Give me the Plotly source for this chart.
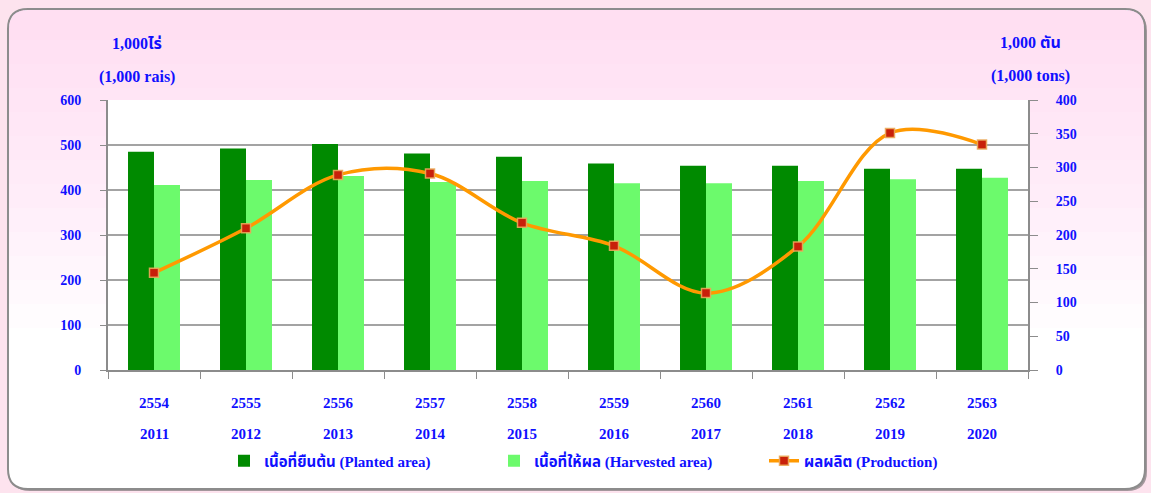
import plotly.graph_objects as go

# ---- data -------------------------------------------------------------
years_be = ["2554", "2555", "2556", "2557", "2558", "2559", "2560", "2561", "2562", "2563"]
years_ad = ["2011", "2012", "2013", "2014", "2015", "2016", "2017", "2018", "2019", "2020"]
planted_area = [485, 492, 502, 481, 474, 459, 454, 454, 447, 447]      # 1,000 rai
harvested_area = [411, 422, 431, 418, 420, 415, 415, 420, 424, 427]    # 1,000 rai
production = [144, 210, 289, 291, 218, 184, 114, 183, 351, 334]        # 1,000 tons

# ---- page geometry (pixels) --------------------------------------------
W, H = 1151, 493
L, R, T, B = 108, 1028, 100, 370   # plot area edges

BLUE = "#1010ff"
SERIF = "Liberation Serif, Times New Roman, Noto Sans Thai, serif"


def px(x):
    return (x - L) / (R - L)


def py(y):
    return (B - y) / (B - T)


def path(points):
    """Build an SVG path in paper units from (cmd, [(x, y), ...]) pixel steps."""
    out = []
    for cmd, pts in points:
        coords = " ".join(f"{px(x):.5f},{py(y):.5f}" for x, y in pts)
        out.append(f"{cmd}{coords}")
    return " ".join(out) + " Z"


def rounded_box(x0, y0, x1, y1, r):
    return path([
        ("M", [(x0 + r, y0)]), ("L", [(x1 - r, y0)]), ("Q", [(x1, y0), (x1, y0 + r)]),
        ("L", [(x1, y1 - r)]), ("Q", [(x1, y1), (x1 - r, y1)]),
        ("L", [(x0 + r, y1)]), ("Q", [(x0, y1), (x0, y1 - r)]),
        ("L", [(x0, y0 + r)]), ("Q", [(x0, y0), (x0 + r, y0)]),
    ])


def rounded_top(x0, y0, x1, y1, r):
    return path([
        ("M", [(x0, y1)]), ("L", [(x0, y0 + r)]), ("Q", [(x0, y0), (x0 + r, y0)]),
        ("L", [(x1 - r, y0)]), ("Q", [(x1, y0), (x1, y0 + r)]), ("L", [(x1, y1)]),
    ])


PX0, PY0, PX1, PY1, RAD = 8, 9, 1145, 489, 20

shapes = [
    # soft shadow of the panel
    dict(type="path", xref="paper", yref="paper", layer="below",
         path=rounded_box(PX0 + 2, PY0 + 2, PX1 + 2, PY1 + 2, RAD),
         fillcolor="rgba(90,90,90,0.55)", line=dict(width=0)),
    # panel
    dict(type="path", xref="paper", yref="paper", layer="below",
         path=rounded_box(PX0, PY0, PX1, PY1, RAD),
         fillcolor="white", line=dict(color="#8c8c8c", width=2)),
]
# pink-to-white vertical shading inside the panel
for y_end in range(40, 330, 24):
    shapes.append(dict(type="path", xref="paper", yref="paper", layer="below",
                       path=rounded_top(PX0 + 1, PY0 + 1, PX1 - 1, y_end, RAD - 1),
                       fillcolor="rgba(250,200,245,0.06)", line=dict(width=0)))
# white plot area
shapes.append(dict(type="rect", xref="paper", yref="paper", layer="below",
                   x0=0, x1=1, y0=0, y1=1, fillcolor="white", line=dict(width=0)))

fig = go.Figure()

fig.add_trace(go.Bar(
    x=years_be, y=planted_area, name="<b>เนื้อที่ยืนต้น (Planted area)</b>",
    marker=dict(color="#008a00", line=dict(width=0)),
))
fig.add_trace(go.Bar(
    x=years_be, y=harvested_area, name="<b>เนื้อที่ให้ผล (Harvested area)</b>",
    marker=dict(color="#6cfa6c", line=dict(width=0)),
))
fig.add_trace(go.Scatter(
    x=years_be, y=production, name="<b>ผลผลิต (Production)</b>", yaxis="y2",
    mode="lines+markers",
    line=dict(color="#ff9900", width=3.5, shape="spline", smoothing=1.0),
    marker=dict(symbol="square", size=9, color="#c8200a",
                line=dict(color="rgba(235,170,90,0.9)", width=1.5)),
))


def title_note(text, x, y):
    return dict(text=f"<b>{text}</b>", x=px(x), y=py(y), xref="paper", yref="paper",
                xanchor="center", yanchor="middle", showarrow=False,
                font=dict(family=SERIF, size=16, color=BLUE))


annotations = [
    title_note("1,000ไร่", 137, 44),
    title_note("(1,000 rais)", 137, 77),
    title_note("1,000 ตัน", 1030, 42),
    title_note("(1,000 tons)", 1030, 76),
]
# Gregorian years under the Buddhist-era tick labels (category index positions)
for i, ad in enumerate(years_ad):
    annotations.append(dict(text=f"<b>{ad}</b>", x=i, xref="x", y=py(434), yref="paper",
                            showarrow=False, xanchor="center", yanchor="middle",
                            font=dict(family=SERIF, size=15, color=BLUE)))

fig.update_layout(
    width=W, height=H, autosize=False,
    margin=dict(l=L, r=W - R, t=T, b=H - B, pad=0),
    paper_bgcolor="#fde3ee", plot_bgcolor="white",
    barmode="group", bargap=0.435, bargroupgap=0,
    shapes=shapes, annotations=annotations,
    font=dict(family=SERIF, color=BLUE),
    xaxis=dict(
        type="category", range=[-0.5, len(years_be) - 0.5],
        tickson="boundaries", ticks="outside", ticklen=7,
        tickcolor="#8c8c8c", showline=True, linecolor="#8c8c8c", linewidth=2,
        showgrid=False, tickvals=years_be, ticktext=[f"<b>{y}</b>" for y in years_be],
        tickfont=dict(family=SERIF, size=15, color=BLUE), ticklabelstandoff=18,
    ),
    yaxis=dict(
        range=[0, 600], dtick=100, ticks="outside", ticklen=6, tickcolor="#8c8c8c",
        showline=True, linecolor="#8c8c8c", linewidth=2,
        showgrid=True, gridcolor="#a3a3a3", gridwidth=1.5, zeroline=False,
        tickfont=dict(family=SERIF, size=14, color=BLUE), ticklabelstandoff=16,
        tickprefix="<b>", ticksuffix="</b>",
    ),
    yaxis2=dict(
        range=[0, 400], dtick=50, overlaying="y", side="right", ticks="outside",
        ticklen=8, tickcolor="#8c8c8c", showline=True, linecolor="#8c8c8c", linewidth=2,
        showgrid=False, zeroline=False,
        tickfont=dict(family=SERIF, size=14, color=BLUE), ticklabelstandoff=15,
        tickprefix="<b>", ticksuffix="</b>",
    ),
    legend=dict(
        orientation="h", x=px(224), xanchor="left", y=py(461), yanchor="middle",
        bgcolor="rgba(0,0,0,0)", entrywidthmode="pixels", entrywidth=225,
        font=dict(family=SERIF, size=15, color=BLUE), traceorder="normal",
    ),
)

fig.write_html("out.html")
